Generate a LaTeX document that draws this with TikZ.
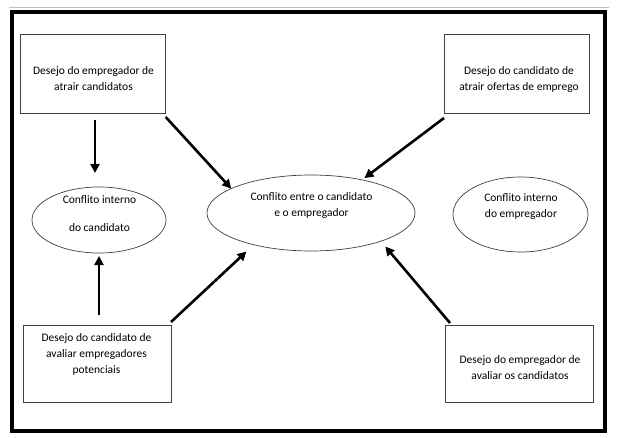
\documentclass[tikz,border=0pt]{standalone}
\usepackage{fontspec}
\setmainfont{Carlito}
\usetikzlibrary{arrows.meta,shapes.geometric,calc}
\begin{document}
\begin{tikzpicture}[x=1pt,y=-1pt,
  box/.style={draw=black!75,line width=0.8pt,inner sep=0pt,outer sep=0pt},
  oval/.style={ellipse,draw=black!75,line width=0.7pt,inner sep=0pt,outer sep=0pt},
  txt/.style={align=center,font=\fontsize{11.5}{16}\selectfont,inner sep=0pt},
  arr/.style={line width=2.6pt,-{Triangle[length=9pt,width=9pt]}}]
\useasboundingbox (0,0) rectangle (617,438);
\fill[white] (0,0) rectangle (617,438);
\draw[black!25,line width=1pt] (9,7.5) -- (609,7.5);
\draw[line width=4pt] (12,12.5) rectangle (605,430.5);

% boxes
\node[box,minimum width=145pt,minimum height=79pt] (tl) at (93.2,73.5) {};
\node[txt] (tltxt) at (93.5,79) {Desejo do empregador de\\atrair candidatos};
\node[box,minimum width=145pt,minimum height=79pt] (tr) at (516.5,73.5) {};
\node[txt] (trtxt) at (519,79.5) {Desejo do candidato de\\atrair ofertas de emprego};
\node[box,minimum width=148pt,minimum height=77pt] (bl) at (97,363.5) {};
\node[txt] (bltxt) at (96.5,354.5) {Desejo do candidato de\\avaliar empregadores\\potenciais};
\node[box,minimum width=148pt,minimum height=77pt] (br) at (519,363.5) {};
\node[txt] (brtxt) at (520,367.5) {Desejo do empregador de\\avaliar os candidatos};

% ellipses
\node[oval,minimum width=134pt,minimum height=66pt] (le) at (99,220) {};
\node[txt] (letxt) at (99.5,214) {Conflito interno\\[12pt]do candidato};
\node[oval,minimum width=208pt,minimum height=76pt] (ce) at (311,213) {};
\node[txt] (cetxt) at (311.5,205) {Conflito entre o candidato\\e o empregador};
\node[oval,minimum width=135pt,minimum height=75pt] (re) at (520.5,214.5) {};
\node[txt] (retxt) at (521,207) {Conflito interno\\do empregador};

% arrow start points
\coordinate (s1) at (95,120);
\coordinate (s4) at (99,315);
\coordinate (s2) at ([yshift=-4pt]tl.south east);
\coordinate (s3) at ([yshift=-5pt]tr.south west);
\coordinate (s5) at ([yshift=3pt]bl.north east);
\coordinate (s6) at ([xshift=5pt,yshift=2pt]br.north west);

% arrows
\draw[arr,shorten >=14pt] (s1) -- (s1 |- le.north);
\draw[arr,shorten >=3pt] (s4) -- (s4 |- le.south);
\draw[arr] (s2) -- (ce.163);
\draw[arr,shorten >=3pt] (s3) -- (ce.33);
\draw[arr,shorten >=10pt] (s5) -- (ce.209);
\draw[arr,shorten >=7pt] (s6) -- (ce.338);
\end{tikzpicture}
\end{document}
